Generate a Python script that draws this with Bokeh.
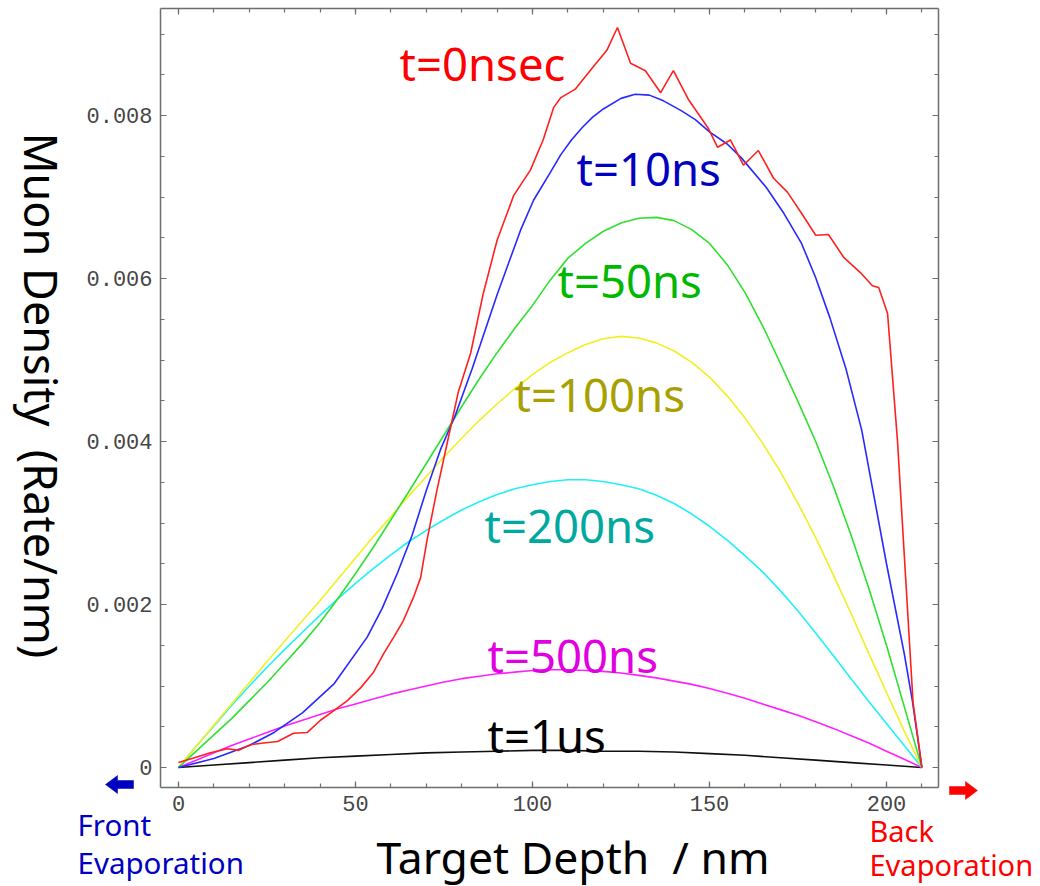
import math
from bokeh.plotting import figure
from bokeh.models import (LinearAxis, SingleIntervalTicker, Label,
                          CustomJSTickFormatter, Range1d)
from bokeh.embed import file_html
from bokeh.resources import INLINE

# ---------------- data ----------------
depth_1us = [0, 10, 20, 30, 40, 50, 60, 70, 80, 90, 100, 110, 120, 130, 140, 150,
             160, 170, 180, 190, 200, 210]
dens_1us = [0, 0.00003, 0.00006, 0.00009, 0.00012, 0.00014, 0.00016, 0.00018,
            0.00019, 0.0002, 0.00021, 0.00021, 0.0002, 0.0002, 0.00019, 0.00017,
            0.00015, 0.00012, 0.00009, 0.00006, 0.00003, 0]

depth = [0, 5, 10, 15, 20, 25, 30, 35, 40, 45, 50, 55, 60, 65, 70, 75, 80, 85, 90,
         95, 100, 105, 110, 115, 120, 125, 130, 135, 140, 145, 150, 155, 160, 165,
         170, 175, 180, 185, 190, 195, 200, 205, 210]

dens_500ns = [0, 0.00009, 0.00018, 0.00027, 0.00035, 0.00043, 0.00051, 0.00058,
              0.00065, 0.00072, 0.00078, 0.00084, 0.0009, 0.00095, 0.001, 0.00105,
              0.00109, 0.00112, 0.00115, 0.00117, 0.00119, 0.0012, 0.0012, 0.00119,
              0.00118, 0.00116, 0.00113, 0.0011, 0.00106, 0.00102, 0.00097, 0.00091,
              0.00085, 0.00078, 0.00071, 0.00064, 0.00056, 0.00048, 0.00039, 0.0003,
              0.0002, 0.0001, 0]

dens_200ns = [0, 0.00026, 0.00051, 0.00076, 0.001, 0.00123, 0.00145, 0.00166,
              0.00187, 0.00207, 0.00226, 0.00244, 0.00261, 0.00277, 0.00291, 0.00304,
              0.00316, 0.00326, 0.00335, 0.00342, 0.00347, 0.00351, 0.00353, 0.00353,
              0.00351, 0.00347, 0.00342, 0.00334, 0.00324, 0.00311, 0.00296, 0.00279,
              0.0026, 0.0024, 0.00217, 0.00192, 0.00165, 0.00137, 0.00109, 0.00081,
              0.00054, 0.00027, 0]

dens_100ns = [0, 0.00026, 0.00052, 0.00078, 0.00104, 0.0013, 0.00155, 0.0018,
              0.00205, 0.00231, 0.00257, 0.00283, 0.00308, 0.00333, 0.00357, 0.00381,
              0.00404, 0.00426, 0.00446, 0.00465, 0.00482, 0.00497, 0.00509, 0.00519,
              0.00526, 0.00529, 0.00527, 0.00521, 0.00511, 0.00497, 0.00479, 0.00456,
              0.00429, 0.00398, 0.00363, 0.00324, 0.00282, 0.00236, 0.00189, 0.0014,
              0.00092, 0.00045, 0]

dens_50ns = [0, 0.0002, 0.0004, 0.0006, 0.00082, 0.00104, 0.00128, 0.00152, 0.00178,
             0.00207, 0.00238, 0.0027, 0.00304, 0.00338, 0.00373, 0.00408, 0.00443,
             0.00477, 0.00509, 0.00539, 0.00567, 0.00598, 0.00625, 0.00643, 0.00658,
             0.00668, 0.00674, 0.00675, 0.00671, 0.0066, 0.00643, 0.00617, 0.00583,
             0.00542, 0.00496, 0.00449, 0.004, 0.00345, 0.00285, 0.0022, 0.0015,
             0.00075, 0]

depth_10ns = [0, 10, 20, 27, 35, 44, 53.3, 57.5, 61.8, 66, 70, 74, 78, 83, 90, 96.6,
              100.3, 105, 108, 111, 114, 117, 120, 125, 129, 133, 137, 142, 146, 150,
              155, 159, 166, 171, 176, 180, 184, 188.5, 193, 200, 205, 207.3, 210]
dens_10ns = [0, 0.00011, 0.00027, 0.00043, 0.00067, 0.00103, 0.0016, 0.00195,
             0.00238, 0.00285, 0.0034, 0.0039, 0.0043, 0.0049, 0.0058, 0.00659,
             0.00696, 0.0073, 0.00752, 0.0077, 0.00785, 0.00798, 0.00808, 0.00821,
             0.00826, 0.00825, 0.00818, 0.00806, 0.00795, 0.0078, 0.00765, 0.00748,
             0.00712, 0.0068, 0.00643, 0.00601, 0.00552, 0.0049, 0.00414, 0.0025,
             0.0014, 0.00082, 0]

depth_0ns = [0, 4.5, 9, 13.8, 17, 20.3, 24, 28, 32.5, 36.4, 40.1, 44, 47.7, 51.5,
             55.1, 58, 60.8, 63.5, 66.4, 68.4, 70.2, 73, 76, 79, 82.5, 86, 90,
             94.7, 99.4, 103, 106, 108, 112, 117, 121, 124, 127.7, 131.9, 136.2,
             139.8, 144, 149.7, 152.3, 155.9, 159.6, 163.8, 168.1, 172, 176, 180,
             183.6, 187.9, 192.7, 196, 197.8, 200.3, 203.1, 207.5, 210]
dens_0ns = [0.00006, 0.00012, 0.00018, 0.00023, 0.00021, 0.00028, 0.0003, 0.00032,
            0.00042, 0.00043, 0.00058, 0.0007, 0.00082, 0.00098, 0.00117, 0.0014,
            0.0016, 0.0018, 0.00209, 0.00233, 0.00279, 0.0034, 0.004, 0.0046,
            0.00508, 0.0058, 0.00647, 0.00702, 0.00733, 0.0077, 0.0081, 0.00822,
            0.00832, 0.00859, 0.0088, 0.00908, 0.00864, 0.00855, 0.00828, 0.00855,
            0.0082, 0.00784, 0.00761, 0.0077, 0.00739, 0.00757, 0.00723, 0.00706,
            0.0068, 0.00653, 0.00654, 0.00626, 0.00607, 0.00591, 0.00589, 0.00557,
            0.00401, 0.0008, 0]

series_names = ["t=0nsec", "t=10ns", "t=50ns", "t=100ns", "t=200ns", "t=500ns", "t=1us"]
x_title = "Target Depth \u00a0/ nm"
y_title = "Muon Density \u00a0(Rate/nm)"

# ---------------- geometry helpers (pixel -> data) ----------------
W, H = 1040, 886
PX_PER_NM = 3.54
Y_PER_PX = 0.002 / 163.0
X0_PX, Y0_PX = 178, 767
F_LEFT, F_RIGHT, F_TOP, F_BOTTOM = 160, 938, 8, 787


def dx(px):
    return (px - X0_PX) / PX_PER_NM


def dy(py):
    return (Y0_PX - py) * Y_PER_PX


p = figure(width=W, height=H, output_backend="svg", toolbar_location=None,
           x_range=Range1d(dx(0), dx(W)), y_range=Range1d(dy(H), dy(0)),
           min_border=0, x_axis_location=None, y_axis_location=None)
p.grid.visible = False
p.outline_line_color = None
p.background_fill_color = "white"
p.border_fill_color = "white"

AX_COL = "#6e6e6e"


def style_axis(ax, labels):
    ax.axis_line_color = AX_COL
    ax.axis_line_width = 1.5
    ax.major_tick_line_color = AX_COL
    ax.minor_tick_line_color = AX_COL
    ax.major_tick_line_width = 1.2
    ax.minor_tick_line_width = 1.2
    ax.major_tick_in = 6
    ax.major_tick_out = 0
    ax.minor_tick_in = 4
    ax.minor_tick_out = 0
    if labels:
        ax.major_label_text_font = "Liberation Mono"
        ax.major_label_text_font_size = "22px"
        ax.major_label_text_color = "#454545"
        ax.major_label_standoff = 8
    else:
        ax.major_label_text_font_size = "0px"
        ax.major_label_standoff = 0
        ax.formatter = CustomJSTickFormatter(code="return '';")


xb = (dx(F_LEFT), dx(F_RIGHT))
yb = (dy(F_BOTTOM), dy(F_TOP))

bottom_ax = LinearAxis(ticker=SingleIntervalTicker(interval=50, num_minor_ticks=5),
                       fixed_location=dy(F_BOTTOM), bounds=xb)
left_ax = LinearAxis(ticker=SingleIntervalTicker(interval=0.002, num_minor_ticks=4),
                     fixed_location=dx(F_LEFT), bounds=yb,
                     formatter=CustomJSTickFormatter(
                         code="return Math.abs(tick) < 1e-12 ? '0' : tick.toFixed(3);"))
top_ax = LinearAxis(ticker=SingleIntervalTicker(interval=50, num_minor_ticks=5),
                    fixed_location=dy(F_TOP), bounds=xb)
right_ax = LinearAxis(ticker=SingleIntervalTicker(interval=0.002, num_minor_ticks=4),
                      fixed_location=dx(F_RIGHT), bounds=yb)
style_axis(bottom_ax, True)
style_axis(left_ax, True)
style_axis(top_ax, False)
style_axis(right_ax, False)
p.add_layout(bottom_ax, "below")
p.add_layout(left_ax, "left")
p.add_layout(top_ax, "above")
p.add_layout(right_ax, "right")

# ---------------- curves ----------------
LW = 1.6
p.line(depth_1us, dens_1us, line_color="#101010", line_width=LW)
p.line(depth, dens_500ns, line_color="#ff20ff", line_width=LW)
p.line(depth, dens_200ns, line_color="#20f0f8", line_width=LW)
p.line(depth, dens_100ns, line_color="#f0f020", line_width=LW)
p.line(depth, dens_50ns, line_color="#30e030", line_width=LW)
p.line(depth_10ns, dens_10ns, line_color="#2828ff", line_width=LW)
p.line(depth_0ns, dens_0ns, line_color="#ff2020", line_width=LW)

# ---------------- labels ----------------
FONT = "Noto Sans"
BASE_SHIFT = 0.38  # empirical em-offset of the renderer's alphabetic baseline


def add_text(txt, lx, baseline_px, size, col):
    p.add_layout(Label(x=dx(lx), y=dy(baseline_px - BASE_SHIFT * size), text=txt,
                       text_font=FONT, text_font_size=f"{size}px", text_color=col,
                       text_align="left", text_baseline="alphabetic"))


label_specs = [
    (series_names[0], 399, 80, "#ff0000"),
    (series_names[1], 576, 185, "#0000c0"),
    (series_names[2], 557, 297, "#00b800"),
    (series_names[3], 514, 411, "#a8a000"),
    (series_names[4], 484, 542, "#00a8a0"),
    (series_names[5], 487, 672, "#e000e0"),
    (series_names[6], 487, 752, "#000000"),
]
for txt, lx, ly, col in label_specs:
    add_text(txt, lx, ly, 45.5, col)

add_text(x_title, 376, 873, 44.5, "#000000")

p.add_layout(Label(x=dx(41), y=dy(395), text=y_title, text_font=FONT,
                   text_font_size="45px", text_color="#000000", angle=-math.pi / 2,
                   text_align="center", text_baseline="middle"))

for txt, lx, ly, size, col in [("Front", 77, 835, 29.5, "#0000c0"),
                               ("Evaporation", 77, 873, 29.5, "#0000c0"),
                               ("Back", 869, 841, 29, "#ff0000"),
                               ("Evaporation", 869, 875, 29, "#ff0000")]:
    add_text(txt, lx, ly, size, col)


# ---------------- block arrows (decoration) ----------------
def block_arrow(tail, tip, cy, color):
    d = 1 if tip > tail else -1
    base = tip - d * 12
    xs = [tail, base, base, tip, base, base, tail]
    ys = [cy - 4, cy - 4, cy - 9, cy, cy + 9, cy + 4, cy + 4]
    p.patch([dx(v) for v in xs], [dy(v) for v in ys], fill_color=color,
            line_color=color, line_width=0.5)


block_arrow(133, 105, 784, "#0000c0")
block_arrow(949, 977, 790, "#ff0000")

open("out.html", "w").write(file_html(p, INLINE))
